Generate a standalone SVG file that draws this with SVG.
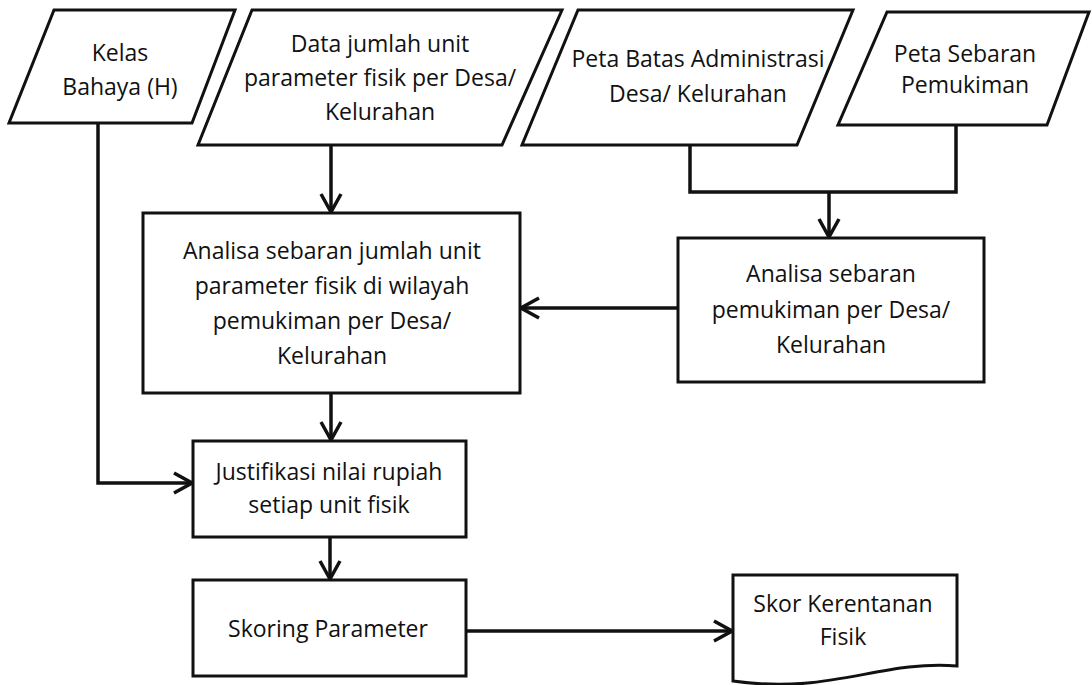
<svg xmlns="http://www.w3.org/2000/svg" width="1092" height="685" viewBox="0 0 1092 685">
<defs>
<style>
.shape{fill:#fff;stroke:#111;stroke-width:3;stroke-linejoin:miter}
.conn{fill:none;stroke:#111;stroke-width:3.5}
text{font-family:"Open Sans","Noto Sans","Liberation Sans",sans-serif;font-size:23px;fill:#111;text-anchor:middle}
</style>
<marker id="arr" markerUnits="userSpaceOnUse" viewBox="0 0 22 24" refX="20" refY="12" markerWidth="22" markerHeight="24" orient="auto">
<path d="M2,2 L20,12 L2,22" fill="none" stroke="#111" stroke-width="3.5"/>
</marker>
</defs>
<rect width="1092" height="685" fill="#fff"/>
<g id="kelas">
<polygon class="shape" points="54,10 235,10 192,123 9,123"/>
<text x="120" y="61">Kelas</text>
<text x="120" y="95">Bahaya (H)</text>
</g>
<g id="data">
<polygon class="shape" points="252,10 562,10 502,145 198,145"/>
<text x="380" y="52">Data jumlah unit</text>
<text x="380" y="86">parameter fisik per Desa/</text>
<text x="380" y="120">Kelurahan</text>
</g>
<g id="petabatas">
<polygon class="shape" points="578,10 853,10 797,145 522,145"/>
<text x="698" y="67">Peta Batas Administrasi</text>
<text x="698" y="102">Desa/ Kelurahan</text>
</g>
<g id="petasebaran">
<polygon class="shape" points="887,12 1089,12 1047,125 838,125"/>
<text x="965" y="62">Peta Sebaran</text>
<text x="965" y="93">Pemukiman</text>
</g>
<g id="analisa1">
<rect class="shape" x="143" y="213" width="377" height="180"/>
<text x="332" y="259">Analisa sebaran jumlah unit</text>
<text x="332" y="294">parameter fisik di wilayah</text>
<text x="332" y="329">pemukiman per Desa/</text>
<text x="332" y="364">Kelurahan</text>
</g>
<g id="analisa2">
<rect class="shape" x="678" y="238" width="306" height="144"/>
<text x="831" y="282">Analisa sebaran</text>
<text x="831" y="318">pemukiman per Desa/</text>
<text x="831" y="353">Kelurahan</text>
</g>
<g id="justifikasi">
<rect class="shape" x="193" y="441" width="273" height="96"/>
<text x="329" y="480">Justifikasi nilai rupiah</text>
<text x="329" y="513">setiap unit fisik</text>
</g>
<g id="skoring">
<rect class="shape" x="193" y="580" width="273" height="96"/>
<text x="328" y="637">Skoring Parameter</text>
</g>
<g id="skor">
<path class="shape" d="M733,575 H957 V666 C880,660 830,695 733,681 Z"/>
<text x="843" y="612">Skor Kerentanan</text>
<text x="843" y="645">Fisik</text>
</g>
<g id="connectors">
<path class="conn" d="M98,123 V483 H192" marker-end="url(#arr)"/>
<path class="conn" d="M331,145 V212" marker-end="url(#arr)"/>
<path class="conn" d="M690,145 V192 H956 V125"/>
<path class="conn" d="M829,192 V237" marker-end="url(#arr)"/>
<path class="conn" d="M678,308 H521" marker-end="url(#arr)"/>
<path class="conn" d="M331,393 V440" marker-end="url(#arr)"/>
<path class="conn" d="M330,537 V579" marker-end="url(#arr)"/>
<path class="conn" d="M466,631 H732" marker-end="url(#arr)"/>
</g>
</svg>
